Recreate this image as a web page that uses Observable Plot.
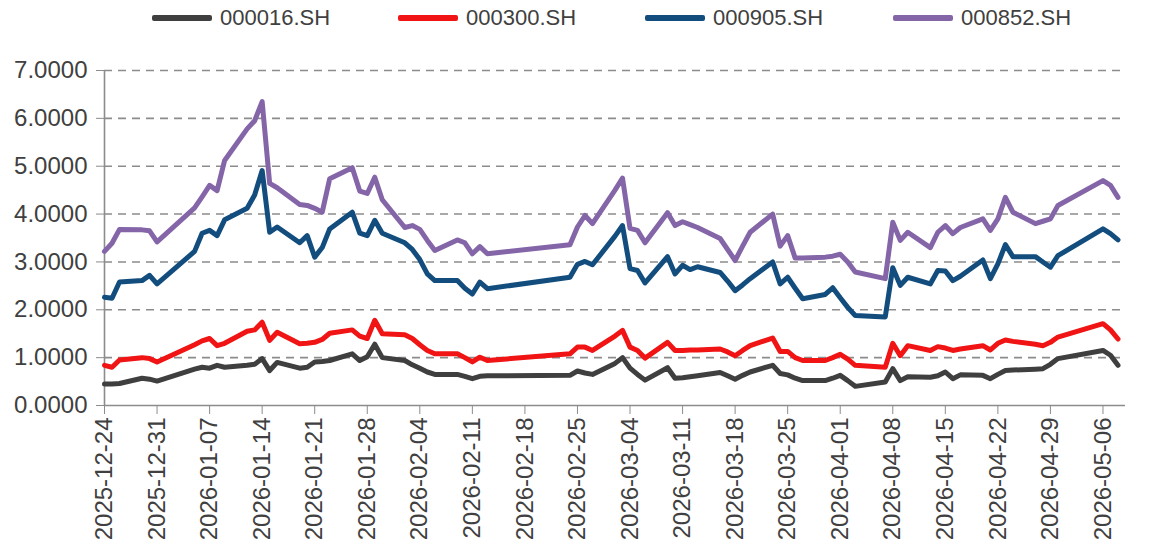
<!DOCTYPE html>
<html><head><meta charset="utf-8">
<script src="https://cdn.jsdelivr.net/npm/d3@7"></script>
<script src="https://cdn.jsdelivr.net/npm/@observablehq/plot@0.6"></script>
<style>
body{margin:0;background:#fff;font-family:"Liberation Sans",Arial,sans-serif;}
#wrap{position:relative;width:1162px;height:546px;overflow:hidden;background:#fff;}
#legend{position:relative;height:40px;}
.item{position:absolute;top:0;height:36px;display:flex;align-items:center;font-size:22px;color:#404040;white-space:nowrap;}
.sw{width:60px;height:6px;margin-right:8px;border-radius:2px;}
#chart svg{display:block;}
</style></head><body>
<div id="wrap"><div id="legend"></div><div id="chart"></div></div>
<script>
const seriesNames = ["000016.SH", "000300.SH", "000905.SH", "000852.SH"];
const seriesColors = ["#3f3f3f", "#f01414", "#124d7e", "#8466a8"];
const legendLeft = [152, 398, 645, 893];

const dates = [
  "2025-12-24","2025-12-25","2025-12-26","2025-12-29","2025-12-30","2025-12-31",
  "2026-01-05","2026-01-06","2026-01-07","2026-01-08","2026-01-09",
  "2026-01-12","2026-01-13","2026-01-14","2026-01-15","2026-01-16",
  "2026-01-19","2026-01-20","2026-01-21","2026-01-22","2026-01-23",
  "2026-01-26","2026-01-27","2026-01-28","2026-01-29","2026-01-30",
  "2026-02-02","2026-02-03","2026-02-04","2026-02-05","2026-02-06",
  "2026-02-09","2026-02-10","2026-02-11","2026-02-12","2026-02-13",
  "2026-02-24","2026-02-25","2026-02-26","2026-02-27",
  "2026-03-02","2026-03-03","2026-03-04","2026-03-05","2026-03-06",
  "2026-03-09","2026-03-10","2026-03-11","2026-03-12","2026-03-13",
  "2026-03-16","2026-03-17","2026-03-18","2026-03-19","2026-03-20",
  "2026-03-23","2026-03-24","2026-03-25","2026-03-26","2026-03-27",
  "2026-03-30","2026-03-31",
  "2026-04-01","2026-04-02","2026-04-03",
  "2026-04-07","2026-04-08","2026-04-09","2026-04-10",
  "2026-04-13","2026-04-14","2026-04-15","2026-04-16","2026-04-17",
  "2026-04-20","2026-04-21","2026-04-22","2026-04-23","2026-04-24",
  "2026-04-27","2026-04-28","2026-04-29","2026-04-30",
  "2026-05-06","2026-05-07","2026-05-08"
];

const s000016 = [
  0.45,0.45,0.46,0.57,0.55,0.51,
  0.76,0.80,0.78,0.84,0.80, 0.84,0.86,0.98,0.73,0.90, 0.78,0.80,0.91,0.92,0.94, 1.08,0.94,1.02,1.28,1.00,
  0.94,0.85,0.78,0.70,0.65, 0.65,0.61,0.56,0.61,0.62, 0.63,0.72,0.68,0.65,
  0.88,1.00,0.78,0.65,0.53, 0.79,0.57,0.58,0.60,0.62, 0.69,0.62,0.55,0.63,0.70, 0.84,0.67,0.64,0.57,0.52, 0.52,0.57,
  0.63,0.52,0.40, 0.49,0.77,0.52,0.60, 0.59,0.62,0.70,0.56,0.64, 0.63,0.56,0.65,0.73,0.74, 0.76,0.77,0.86,0.98,
  1.15,1.05,0.84
];
const s000300 = [
  0.84,0.80,0.95,1.00,0.98,0.91,
  1.27,1.35,1.40,1.25,1.30, 1.55,1.58,1.74,1.36,1.53, 1.29,1.30,1.32,1.38,1.51, 1.58,1.45,1.40,1.78,1.50,
  1.48,1.40,1.27,1.15,1.08, 1.08,1.00,0.91,1.01,0.94, 1.08,1.22,1.22,1.15,
  1.45,1.57,1.22,1.15,0.99, 1.32,1.15,1.15,1.16,1.16, 1.18,1.12,1.04,1.15,1.25, 1.41,1.13,1.13,1.00,0.94, 0.94,1.00,
  1.07,0.97,0.84, 0.80,1.30,1.04,1.25, 1.15,1.23,1.20,1.15,1.18, 1.25,1.16,1.30,1.37,1.34, 1.28,1.25,1.32,1.43,
  1.71,1.58,1.39
];
const s000905 = [
  2.26,2.24,2.58,2.61,2.72,2.54,
  3.22,3.60,3.66,3.55,3.88, 4.12,4.40,4.91,3.62,3.73, 3.40,3.55,3.10,3.30,3.69, 4.04,3.60,3.55,3.87,3.60,
  3.40,3.26,3.05,2.75,2.61, 2.61,2.45,2.33,2.58,2.44, 2.68,2.95,3.01,2.94,
  3.54,3.76,2.86,2.82,2.56, 3.11,2.75,2.93,2.84,2.90, 2.78,2.60,2.40,2.52,2.65, 3.00,2.54,2.68,2.45,2.23, 2.32,2.46,
  2.25,2.05,1.88, 1.85,2.88,2.51,2.68, 2.54,2.82,2.81,2.61,2.70, 3.04,2.65,2.96,3.36,3.11, 3.11,3.00,2.89,3.13,
  3.69,3.59,3.46
];
const s000852 = [
  3.22,3.39,3.68,3.67,3.65,3.42,
  4.13,4.36,4.60,4.49,5.12, 5.78,5.95,6.35,4.64,4.55, 4.20,4.18,4.12,4.04,4.74, 4.97,4.48,4.43,4.77,4.30,
  3.72,3.76,3.68,3.45,3.24, 3.46,3.40,3.17,3.32,3.17, 3.36,3.73,3.97,3.80,
  4.50,4.75,3.70,3.66,3.40, 4.03,3.76,3.84,3.78,3.72, 3.49,3.26,3.03,3.33,3.62, 4.00,3.33,3.55,3.08,3.08, 3.10,3.12,
  3.16,3.00,2.79, 2.65,3.83,3.45,3.62, 3.30,3.62,3.76,3.59,3.72, 3.90,3.66,3.90,4.35,4.04, 3.80,3.85,3.90,4.18,
  4.70,4.60,4.35
];

const xTickLabels = [
  "2025-12-24","2025-12-31","2026-01-07","2026-01-14","2026-01-21","2026-01-28","2026-02-04",
  "2026-02-11","2026-02-18","2026-02-25","2026-03-04","2026-03-11","2026-03-18","2026-03-25",
  "2026-04-01","2026-04-08","2026-04-15","2026-04-22","2026-04-29","2026-05-06"
];
const yTicks = [0,1,2,3,4,5,6,7];
const xDomain = ["2025-12-24","2026-05-09"];

const parse = d3.utcParse("%Y-%m-%d");
const seriesValues = [s000016, s000300, s000905, s000852];
const data = [];
seriesNames.forEach((name, k) => {
  dates.forEach((d, i) => data.push({date: parse(d), value: seriesValues[k][i], series: name}));
});

// legend
const legend = document.getElementById("legend");
seriesNames.forEach((name, k) => {
  const it = document.createElement("div");
  it.className = "item";
  it.style.left = legendLeft[k] + "px";
  it.innerHTML = `<span class="sw" style="background:${seriesColors[k]}"></span><span>${name}</span>`;
  legend.appendChild(it);
});

const axisColor = "#8c8c8c";
const chart = Plot.plot({
  width: 1162,
  height: 506,
  marginTop: 30,
  marginBottom: 141,
  marginLeft: 104,
  marginRight: 37,
  style: {fontFamily: "'Liberation Sans', Arial, sans-serif", fontSize: "24px", color: "#404040", background: "white", overflow: "visible"},
  x: {type: "utc", domain: xDomain.map(parse)},
  y: {domain: [0, 7]},
  color: {domain: seriesNames, range: seriesColors},
  marks: [
    Plot.ruleY(yTicks.filter(v => v > 0), {stroke: axisColor, strokeWidth: 1.6, strokeDasharray: "8,6"}),
    Plot.ruleX([parse(xDomain[0])], {stroke: axisColor, strokeWidth: 1.6}),
    Plot.ruleY([0], {stroke: axisColor, strokeWidth: 1.6}),
    Plot.axisY({ticks: yTicks, tickFormat: d3.format(".4f"), tickSize: 8, tickPadding: 9, stroke: axisColor, fill: "#404040", fontSize: 24, label: null}),
    Plot.axisX({ticks: xTickLabels.map(parse), tickFormat: d3.utcFormat("%Y-%m-%d"), tickRotate: -90, tickSize: 9, tickPadding: 3, stroke: axisColor, fill: "#404040", fontSize: 24, label: null}),
    Plot.line(data, {x: "date", y: "value", z: "series", stroke: "series", strokeWidth: 5, strokeLinejoin: "round", strokeLinecap: "round"})
  ]
});
document.getElementById("chart").appendChild(chart);
</script>
</body></html>
